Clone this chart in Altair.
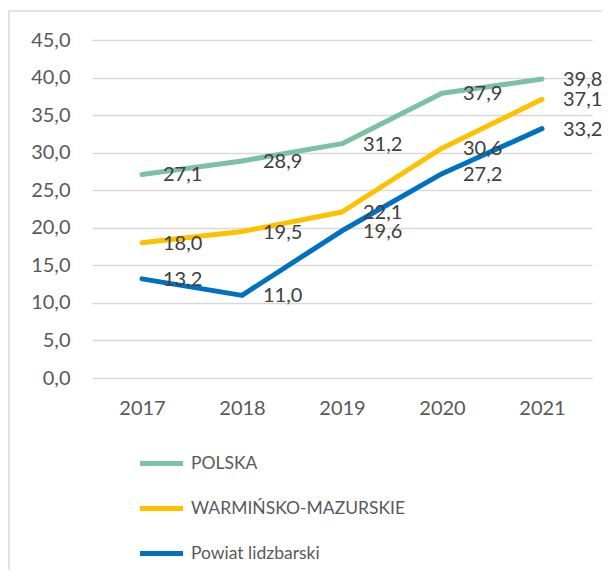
import altair as alt
import pandas as pd

years = ["2017", "2018", "2019", "2020", "2021"]
series_names = ["POLSKA", "WARMIŃSKO-MAZURSKIE", "Powiat lidzbarski"]
polska = [27.1, 28.9, 31.2, 37.9, 39.8]
warminsko = [18.0, 19.5, 22.1, 30.6, 37.1]
powiat = [13.2, 11.0, 19.6, 27.2, 33.2]
y_ticks = [0, 5, 10, 15, 20, 25, 30, 35, 40, 45]
colors = ["#7dc1a5", "#ffc000", "#0070c0"]

rows = []
for name, vals in zip(series_names, [polska, warminsko, powiat]):
    for y, v in zip(years, vals):
        rows.append({"year": y, "value": v, "series": name})
df = pd.DataFrame(rows)

FONT = "Lato"
W, H = 500, 338

x = alt.X("year:O", title=None, scale=alt.Scale(paddingOuter=0.5, paddingInner=1, padding=0.5),
          axis=alt.Axis(labelAngle=0, domain=False, ticks=False, labelPadding=20,
                        labelFontSize=20, labelColor="#595959", labelFont=FONT, grid=False))
y = alt.Y("value:Q", title=None, scale=alt.Scale(domain=[0, 45], nice=False),
          axis=alt.Axis(values=y_ticks, domain=False, ticks=False, labelOverlap=False,
                        labelExpr="replace(format(datum.value, '.1f'), '.', ',')",
                        labelPadding=22, labelFontSize=20, labelColor="#595959", labelFont=FONT,
                        grid=True, gridColor="#d9d9d9", gridWidth=1.5))
color = alt.Color("series:N", title=None,
                  scale=alt.Scale(domain=series_names, range=colors),
                  legend=alt.Legend(orient="none", legendX=45, legendY=399, direction="vertical",
                                    symbolType="stroke", symbolSize=1850, symbolStrokeWidth=5,
                                    labelFontSize=17.5, labelFont=FONT, labelColor="#595959",
                                    rowPadding=10, labelOffset=5, labelLimit=400))

base = alt.Chart(df)
lines = base.mark_line(strokeWidth=5, strokeCap="round", strokeJoin="round").encode(x=x, y=y, color=color)
labels = base.transform_calculate(
    lab="replace(format(datum.value, '.1f'), '.', ',')"
).mark_text(align="left", baseline="middle", dx=21, dy=1, fontSize=20, font=FONT, color="#404040").encode(
    x=x, y=y, text="lab:N")

frame_top = alt.Chart(pd.DataFrame({"a": [0]})).mark_rule(color="#d9d9d9", strokeWidth=1.5).encode(
    x=alt.value(-83), x2=alt.value(520), y=alt.value(-29))
frame_left = alt.Chart(pd.DataFrame({"a": [0]})).mark_rule(color="#d9d9d9", strokeWidth=1.5).encode(
    x=alt.value(-83), y=alt.value(-29), y2=alt.value(540))

chart = alt.layer(lines, labels, frame_top, frame_left).properties(
    width=W, height=H,
    background="white",
    autosize=alt.AutoSizeParams(type="none"),
    padding={"left": 84, "top": 32, "right": 10, "bottom": 192},
).configure_view(strokeWidth=0)

chart.save("out.html", embed_options={"renderer": "svg", "actions": False})
